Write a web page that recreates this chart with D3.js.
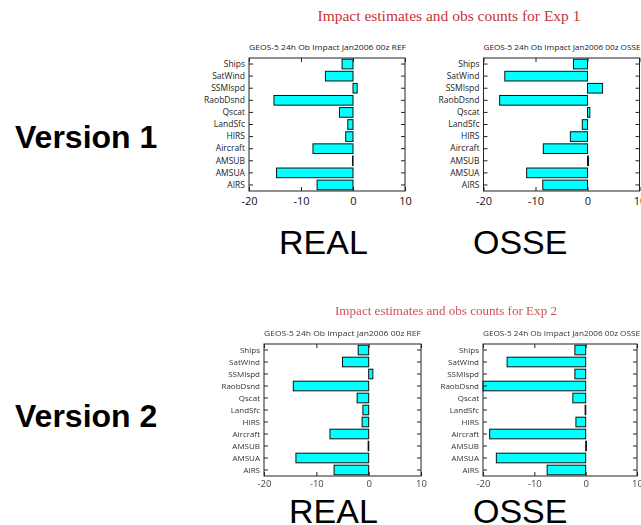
<!DOCTYPE html>
<html>
<head>
<meta charset="utf-8">
<script src="https://cdn.jsdelivr.net/npm/d3@7"></script>
<style>
  html, body { margin: 0; padding: 0; background: #fff; }
  svg { display: block; }
</style>
</head>
<body>
<svg id="chart" width="641" height="525"></svg>
<script>
// Observation types, listed top to bottom
const categories = ["Ships", "SatWind", "SSMIspd", "RaobDsnd", "Qscat", "LandSfc",
                    "HIRS", "Aircraft", "AMSUB", "AMSUA", "AIRS"];

// 24h observation impact (J/kg), experiment 1
const exp1Ref  = [-2.1, -5.3, 0.8, -15.2, -2.6, -1.0, -1.4, -7.7, -0.1, -14.7, -6.9];
const exp1Osse = [-2.7, -15.9, 2.9, -16.9, 0.45, -1.0, -3.3, -8.5, 0.2, -11.7, -8.6];

// 24h observation impact (J/kg), experiment 2
const exp2Ref  = [-2.0, -5.0, 0.8, -14.4, -2.2, -1.1, -1.25, -7.4, -0.1, -13.9, -6.6];
const exp2Osse = [-2.1, -15.3, -2.1, -20.0, -2.5, -0.1, -1.9, -18.7, 0.15, -17.4, -7.5];

const xTicks = [-20, -10, 0, 10];
const xDomain = [-20, 10];

const panelTitles = ["GEOS-5 24h Ob Impact Jan2006 00z  REF",
                     "GEOS-5 24h Ob Impact Jan2006 00z  OSSE"];
const expTitles = ["Impact estimates and obs counts for Exp 1",
                   "Impact estimates and obs counts for Exp 2"];
const rowLabels = ["Version 1", "Version 2"];
const colLabels = ["REAL", "OSSE"];

const svg = d3.select("#chart");
const defs = svg.append("defs");
defs.append("filter").attr("id", "soft")
  .append("feGaussianBlur").attr("stdDeviation", 0.45);

const sansStack = "'Open Sans', 'DejaVu Sans', sans-serif";

function drawPanel(g, values, title, box, opts) {
  const x = d3.scaleLinear().domain(xDomain).range([box.x0, box.x1]);
  const y = d3.scaleBand().domain(categories).range([box.y0, box.y1])
    .paddingInner(0.2).paddingOuter(0.1);

  // bars
  g.append("g").selectAll("rect").data(values).join("rect")
    .attr("x", d => Math.min(x(d), x(0)))
    .attr("y", (d, i) => y(categories[i]))
    .attr("width", d => Math.max(Math.abs(x(d) - x(0)), 0.6))
    .attr("height", y.bandwidth())
    .attr("fill", "#00ffff")
    .attr("stroke", "#111")
    .attr("stroke-width", 1);

  // frame
  g.append("rect")
    .attr("x", box.x0).attr("y", box.y0)
    .attr("width", box.x1 - box.x0).attr("height", box.y1 - box.y0)
    .attr("fill", "none").attr("stroke", "#222").attr("stroke-width", 1);

  // bottom axis with inward ticks (plain hyphen minus), plus matching ticks along the top
  const bottom = d3.axisBottom(x).tickValues(xTicks).tickSizeInner(-4).tickSizeOuter(0)
    .tickPadding(opts.tickPad).tickFormat(d => String(d));
  const ax = g.append("g").attr("transform", `translate(0,${box.y1})`).call(bottom);
  ax.select(".domain").remove();
  ax.selectAll("line").attr("stroke", "#222");
  ax.selectAll("text").attr("font-family", sansStack)
    .attr("font-size", opts.tickFont).attr("fill", opts.tickColor);

  const top = d3.axisTop(x).tickValues(xTicks).tickSizeInner(-4).tickSizeOuter(0)
    .tickFormat("");
  const at = g.append("g").attr("transform", `translate(0,${box.y0})`).call(top);
  at.select(".domain").remove();
  at.selectAll("line").attr("stroke", "#222");

  // category axis with inward ticks
  const left = d3.axisLeft(y).tickSizeInner(-4).tickSizeOuter(0).tickPadding(4);
  const ay = g.append("g").attr("transform", `translate(${box.x0},0)`).call(left);
  ay.select(".domain").remove();
  ay.selectAll("line").attr("stroke", "#222");
  ay.selectAll("text").attr("font-family", sansStack)
    .attr("font-size", opts.catFont).attr("fill", opts.catColor);

  const right = d3.axisRight(y).tickSizeInner(-4).tickSizeOuter(0).tickFormat("");
  const ar = g.append("g").attr("transform", `translate(${box.x1},0)`).call(right);
  ar.select(".domain").remove();
  ar.selectAll("line").attr("stroke", "#222");

  // panel title
  g.append("text")
    .attr("x", box.x0).attr("y", box.y0 - 8)
    .attr("font-family", sansStack)
    .attr("font-size", opts.titleFont)
    .attr("textLength", opts.titleLen).attr("lengthAdjust", "spacingAndGlyphs")
    .attr("fill", opts.catColor)
    .text(title);
}

// ---- Experiment 1 ----
const g1 = svg.append("g");
g1.append("text")
  .attr("x", 449).attr("y", 21).attr("text-anchor", "middle")
  .attr("font-family", "'Liberation Serif', 'DejaVu Serif', serif")
  .attr("font-size", 15).attr("fill", "#c8323a")
  .attr("textLength", 263).attr("lengthAdjust", "spacingAndGlyphs")
  .text(expTitles[0]);

const opts1 = { tickFont: 11, tickColor: "#111", tickPad: 6, catFont: 8.5, catColor: "#222", titleFont: 8, titleLen: 157 };
drawPanel(g1.append("g"), exp1Ref, panelTitles[0], { x0: 249, x1: 405, y0: 58, y1: 191 }, opts1);
drawPanel(g1.append("g"), exp1Osse, panelTitles[1], { x0: 483.5, x1: 639.5, y0: 58, y1: 191 }, opts1);

// ---- Experiment 2 (softer rendering) ----
const g2 = svg.append("g").attr("filter", "url(#soft)");
g2.append("text")
  .attr("x", 446).attr("y", 315).attr("text-anchor", "middle")
  .attr("font-family", "'Liberation Serif', 'DejaVu Serif', serif")
  .attr("font-size", 13).attr("fill", "#d05058")
  .attr("textLength", 222).attr("lengthAdjust", "spacingAndGlyphs")
  .text(expTitles[1]);

const opts2 = { tickFont: 9.5, tickColor: "#444", tickPad: 4, catFont: 8, catColor: "#333", titleFont: 7.5, titleLen: 157 };
drawPanel(g2.append("g"), exp2Ref, panelTitles[0], { x0: 264, x1: 421, y0: 344, y1: 476 }, opts2);
drawPanel(g2.append("g"), exp2Osse, panelTitles[1], { x0: 483, x1: 637, y0: 344, y1: 476 }, opts2);

// ---- Row and column labels ----
const big = svg.append("g").attr("font-family", "'Liberation Sans', Arial, sans-serif").attr("fill", "#000");
big.append("text").attr("x", 15).attr("y", 148).attr("font-size", 32).attr("font-weight", "bold").text(rowLabels[0]);
big.append("text").attr("x", 15).attr("y", 427).attr("font-size", 32).attr("font-weight", "bold").text(rowLabels[1]);
big.append("text").attr("x", 279).attr("y", 254).attr("font-size", 34).text(colLabels[0]);
big.append("text").attr("x", 473).attr("y", 254).attr("font-size", 34).text(colLabels[1]);
big.append("text").attr("x", 289).attr("y", 523).attr("font-size", 34).text(colLabels[0]);
big.append("text").attr("x", 473).attr("y", 523).attr("font-size", 34).text(colLabels[1]);
</script>
</body>
</html>
